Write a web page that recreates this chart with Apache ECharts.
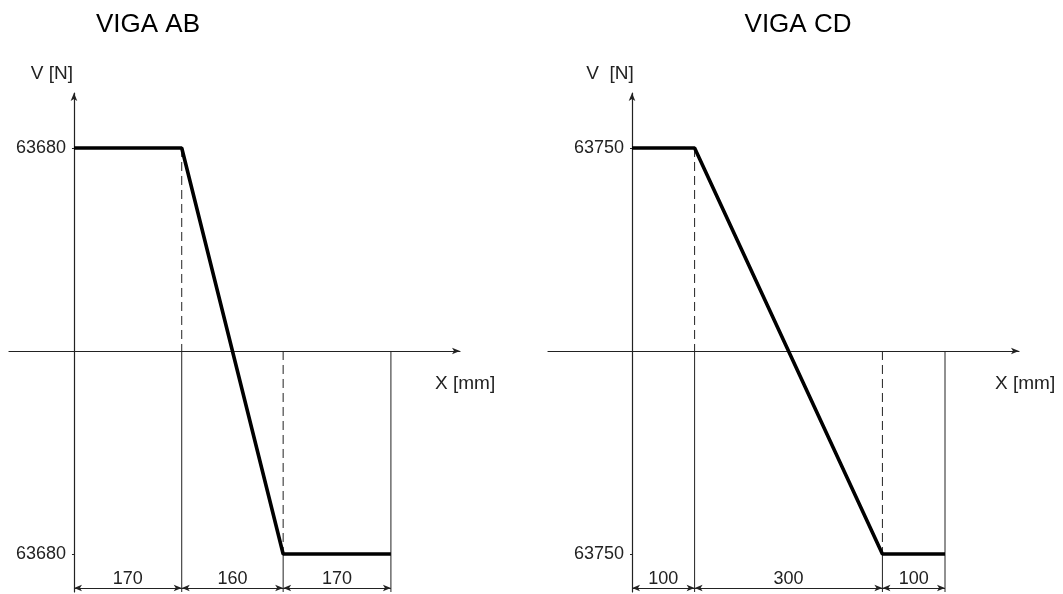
<!DOCTYPE html>
<html><head><meta charset="utf-8">
<script src="https://cdn.jsdelivr.net/npm/echarts@6/dist/echarts.min.js"></script>
<style>html,body{margin:0;padding:0;background:#fff}#c{width:1063px;height:594px}</style>
</head><body><div id="c"></div>
<script>
// ---- data ----
const beamNames = ['VIGA AB', 'VIGA CD'];
const spansAB = [170, 160, 170];      // mm
const spansCD = [100, 300, 100];      // mm
const shearAB = 63680;                // N
const shearCD = 63750;                // N
const axisNameV = ['V [N]', 'V  [N]'];
const axisNameX = 'X [mm]';

// ---- layout (positions / styles only) ----
const layouts = [
  {left: 9,   width: 451, xMin: -102.5, xMax: 609,   titleX: 143, vAlign: 'right',  vPad: [0, 1, 0, 0],  xGap: -25},
  {left: 548, width: 471, xMin: -134.2, xMax: 618.2, titleX: 793, vAlign: 'center', vPad: [0, 44, 0, 0], xGap: -24}
];
const GRID_TOP = 93, GRID_BOTTOM = 2;
const Y_MAX_F = 1.2709, Y_MIN_F = -1.1872, DIM_F = -1.1675;
const LABEL_GAP = 8;
const FONT = 'Liberation Sans, Arial, sans-serif';
const INK = '#222';

const beams = [
  {name: beamNames[0], spans: spansAB, V: shearAB},
  {name: beamNames[1], spans: spansCD, V: shearCD}
];

const grid = [], xAxis = [], yAxis = [], series = [], title = [];

function seg(i, a, b, style) {
  series.push({
    type: 'line', xAxisIndex: i, yAxisIndex: i, data: [a, b],
    symbol: 'none', silent: true, animation: false,
    lineStyle: style
  });
}

beams.forEach((bm, i) => {
  const L = layouts[i];
  const V = bm.V;
  const cum = [0];
  bm.spans.forEach(s => cum.push(cum[cum.length - 1] + s));
  const yMin = Y_MIN_F * V, yMax = Y_MAX_F * V, dimY = DIM_F * V;
  // labels are laid out from the grid edge; shift them next to the zero-positioned axis line
  const axisOffset = (0 - L.xMin) / (L.xMax - L.xMin) * L.width;

  title.push({
    text: bm.name, left: L.titleX, top: 7, textAlign: 'center',
    textStyle: {fontFamily: FONT, fontSize: 26, fontWeight: 'normal', color: '#000'}
  });
  grid.push({left: L.left, width: L.width, top: GRID_TOP, bottom: GRID_BOTTOM,
    containLabel: false, outerBoundsMode: 'none'});
  xAxis.push({
    type: 'value', gridIndex: i, min: L.xMin, max: L.xMax,
    name: axisNameX, nameLocation: 'end', nameGap: L.xGap,
    nameTextStyle: {fontFamily: FONT, fontSize: 19, color: INK, verticalAlign: 'top', align: 'left', padding: [23, 0, 0, 0]},
    axisLine: {show: true, onZero: true, symbol: ['none', 'arrow'], symbolSize: [5, 8], lineStyle: {color: INK, width: 1.2}},
    axisTick: {show: false}, axisLabel: {show: false}, splitLine: {show: false}
  });
  yAxis.push({
    type: 'value', gridIndex: i, min: yMin, max: yMax,
    name: axisNameV[i], nameLocation: 'end', nameGap: 10,
    nameTextStyle: {fontFamily: FONT, fontSize: 19, color: INK, align: L.vAlign, padding: L.vPad},
    axisLine: {show: true, onZero: true, symbol: ['none', 'arrow'], symbolSize: [5, 8], lineStyle: {color: INK, width: 1.2}},
    axisTick: {show: true, length: 2, customValues: [V, -V], lineStyle: {color: INK}},
    axisLabel: {show: true, customValues: [V, -V], margin: LABEL_GAP - axisOffset,
      formatter: v => String(Math.abs(v)),
      fontFamily: FONT, fontSize: 18, color: INK},
    splitLine: {show: false}
  });

  // shear diagram
  series.push({
    type: 'line', xAxisIndex: i, yAxisIndex: i, silent: true, animation: false, symbol: 'none',
    data: [[cum[0], V], [cum[1], V], [cum[2], -V], [cum[3], -V]],
    lineStyle: {color: '#000', width: 3.6}, z: 5
  });
  // dashed reference lines
  const dash = {color: INK, width: 1, type: [9, 5]};
  seg(i, [cum[1], V], [cum[1], 0], dash);
  seg(i, [cum[2], 0], [cum[2], -V], dash);
  // extension lines
  const solid = {color: INK, width: 1};
  seg(i, [cum[1], 0], [cum[1], yMin], solid);
  seg(i, [cum[2], -V], [cum[2], yMin], solid);
  seg(i, [cum[3], 0], [cum[3], yMin], solid);
  // dimension line
  series.push({
    type: 'line', xAxisIndex: i, yAxisIndex: i, data: [], silent: true, animation: false,
    markLine: {
      silent: true, animation: false,
      symbol: ['arrow', 'arrow'], symbolSize: [5, 8],
      lineStyle: {color: INK, width: 1, type: 'solid'},
      label: {show: true, position: 'insideMiddleTop', distance: 0, formatter: '{b}',
        fontFamily: FONT, fontSize: 18, color: INK},
      emphasis: {disabled: true},
      data: bm.spans.map((s, k) => [
        {name: String(s), coord: [cum[k], dimY]},
        {coord: [cum[k + 1], dimY]}
      ])
    }
  });
});

const chart = echarts.init(document.getElementById('c'), null, {renderer: 'canvas'});
chart.setOption({animation: false, backgroundColor: '#fff', title, grid, xAxis, yAxis, series});
</script>
</body></html>
